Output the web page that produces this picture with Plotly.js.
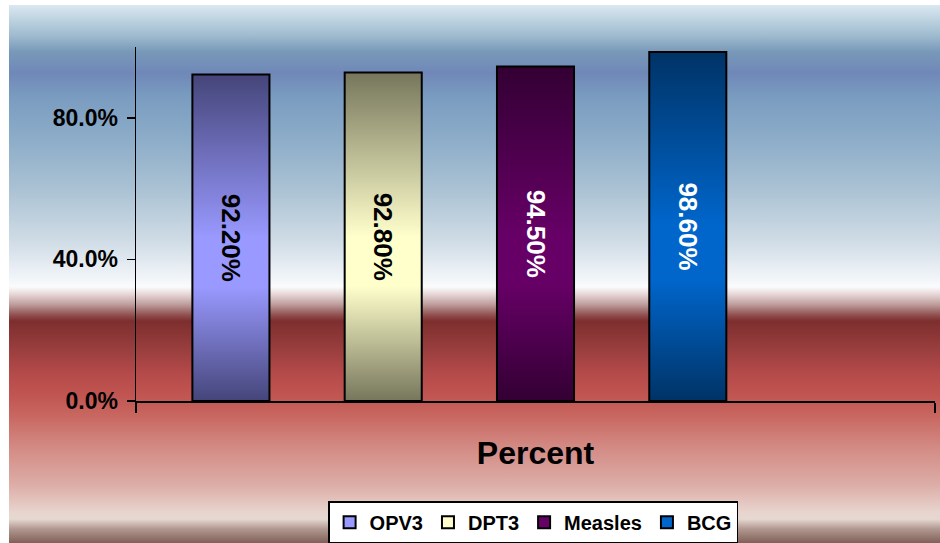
<!DOCTYPE html>
<html>
<head>
<meta charset="utf-8">
<script src="https://cdn.plot.ly/plotly-3.0.1.min.js"></script>
<style>
  html, body { margin: 0; padding: 0; background: #ffffff; }
  #chart {
    width: 940px; height: 543px;
    background:
      linear-gradient(to bottom,
        #dae8f0 0px, #a0bcd0 30px, #7898b8 47px, #7088b8 68px, #7a9cc0 92px,
        #8cacc8 133px, #abc2d4 185px, #d0dce6 237px, #f0f4f8 272px, #fafbfc 282px,
        #e8d8d8 289px, #c0a0a0 299px, #905050 310px, #7e2e2e 316px, #963c3c 341px,
        #b44a4a 368px, #c05450 389px, #c86660 410px, #d48c86 444px, #dcaca6 479px,
        #e8d4ce 507px, #e6d8d2 514px, #b09890 524px, #806058 538px)
      9px 5px / 931px 538px no-repeat,
      #ffffff;
  }
</style>
</head>
<body>
<div id="chart"></div>
<script>
// Immunisation coverage, one category with four vaccines
const categories = ['Percent'];
const seriesNames = ['OPV3', 'DPT3', 'Measles', 'BCG'];
const seriesValues = [92.2, 92.8, 94.5, 98.6];
const yTickValues = [0, 40, 80];

// Bar shading: dark edge colour and bright centre colour per series
const darkColors = ['#45457a', '#76765c', '#330033', '#003366'];
const lightColors = ['#9999ff', '#ffffcc', '#660066', '#0066cc'];
const labelColors = ['#000000', '#000000', '#ffffff', '#ffffff'];

const FONT = 'Arial, "Liberation Sans", sans-serif';

const traces = seriesNames.map((name, i) => ({
  type: 'bar',
  name: name,
  x: categories,
  y: [seriesValues[i]],
  text: [seriesValues[i].toFixed(2) + '%'],
  textposition: 'inside',
  insidetextanchor: 'middle',
  textangle: 90,
  constraintext: 'none',
  textfont: { family: FONT, size: 26, weight: 'bold', color: labelColors[i] },
  marker: { color: lightColors[i], line: { color: '#000000', width: 2 } },
  hoverinfo: 'skip'
}));

// empty fifth slot keeps the group spacing of the original layout
traces.push({
  type: 'bar', name: '', x: categories, y: [null],
  showlegend: false, hoverinfo: 'skip',
  marker: { color: 'rgba(0,0,0,0)' }
});

const layout = {
  width: 940,
  height: 543,
  margin: { l: 136, r: 5, t: 47, b: 142, autoexpand: false },
  paper_bgcolor: 'rgba(0,0,0,0)',
  plot_bgcolor: 'rgba(0,0,0,0)',
  font: { family: FONT, color: '#000000' },
  barmode: 'group',
  bargap: 0.047,
  bargroupgap: 0.494,
  showlegend: true,
  legend: {
    orientation: 'h',
    x: 0.497, xanchor: 'center',
    y: -0.283, yanchor: 'top',
    bgcolor: '#ffffff',
    bordercolor: '#000000',
    borderwidth: 1.5,
    font: { family: FONT, size: 20, weight: 'bold', color: '#000000' },
    itemwidth: 30,
    traceorder: 'normal'
  },
  xaxis: {
    type: 'category',
    automargin: false,
    showline: true, linecolor: '#000000', linewidth: 1.5,
    ticks: 'outside', tickson: 'boundaries', ticklen: 10, tickwidth: 2, tickcolor: '#000000',
    ticklabelstandoff: 23,
    tickfont: { family: FONT, size: 32, weight: 'bold', color: '#000000' },
    showgrid: false, zeroline: false, fixedrange: true
  },
  yaxis: {
    range: [0, 100],
    automargin: false,
    tickvals: yTickValues,
    ticktext: yTickValues.map(v => v.toFixed(1) + '%'),
    showline: true, linecolor: '#000000', linewidth: 1.5,
    ticks: 'outside', ticklen: 8, tickwidth: 1.5, tickcolor: '#000000',
    ticklabelstandoff: 4,
    tickfont: { family: FONT, size: 23, weight: 'bold', color: '#000000' },
    showgrid: false, zeroline: false, fixedrange: true
  }
};

Plotly.newPlot('chart', traces, layout, { displayModeBar: false, staticPlot: true }).then(gd => {
  // vertical dark-light-dark shading for each bar
  const svg = gd.querySelector('svg.main-svg');
  const NS = 'http://www.w3.org/2000/svg';
  const defs = document.createElementNS(NS, 'defs');
  darkColors.forEach((dark, i) => {
    const g = document.createElementNS(NS, 'linearGradient');
    g.setAttribute('id', 'barShade' + i);
    g.setAttribute('x1', '0'); g.setAttribute('y1', '0');
    g.setAttribute('x2', '0'); g.setAttribute('y2', '1');
    [[0, dark], [0.5, lightColors[i]], [0.65, lightColors[i]], [1, dark]].forEach(([o, c]) => {
      const s = document.createElementNS(NS, 'stop');
      s.setAttribute('offset', o);
      s.setAttribute('stop-color', c);
      g.appendChild(s);
    });
    defs.appendChild(g);
  });
  svg.insertBefore(defs, svg.firstChild);

  gd.querySelectorAll('.barlayer .trace').forEach((tg, k) => {
    let idx = k;
    if (tg.__data__ && tg.__data__[0] && tg.__data__[0].trace) idx = tg.__data__[0].trace.index;
    if (idx >= darkColors.length) return;
    tg.querySelectorAll('.point path').forEach(p => {
      p.style.fill = 'url(#barShade' + idx + ')';
    });
  });
});
</script>
</body>
</html>
